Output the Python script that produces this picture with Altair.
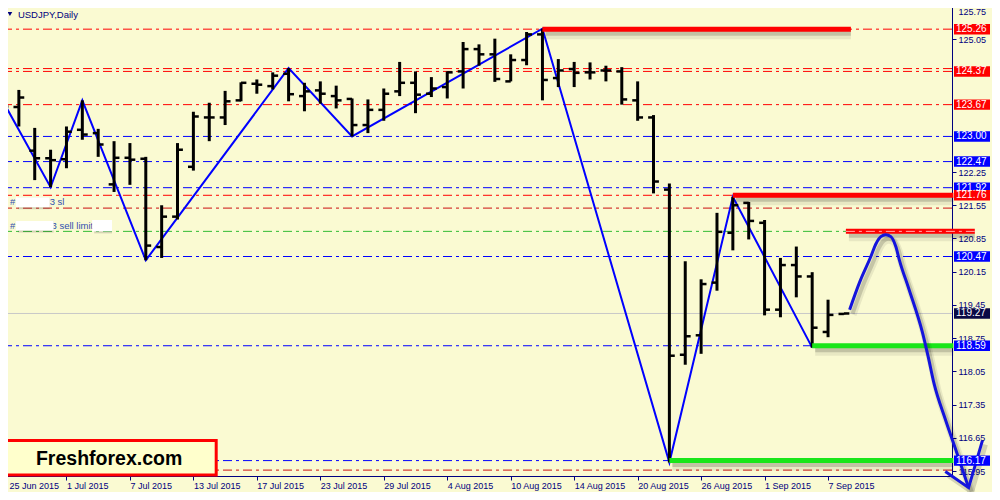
import altair as alt
import pandas as pd

# ---------------- data ----------------
dates = ["25 Jun 2015", "26 Jun 2015", "29 Jun 2015", "30 Jun 2015",
         "1 Jul 2015", "2 Jul 2015", "3 Jul 2015", "6 Jul 2015", "7 Jul 2015", "8 Jul 2015",
         "9 Jul 2015", "10 Jul 2015", "13 Jul 2015", "14 Jul 2015", "15 Jul 2015", "16 Jul 2015",
         "17 Jul 2015", "20 Jul 2015", "21 Jul 2015", "22 Jul 2015", "23 Jul 2015", "24 Jul 2015",
         "27 Jul 2015", "28 Jul 2015", "29 Jul 2015", "30 Jul 2015", "31 Jul 2015",
         "3 Aug 2015", "4 Aug 2015", "5 Aug 2015", "6 Aug 2015", "7 Aug 2015", "10 Aug 2015",
         "11 Aug 2015", "12 Aug 2015", "13 Aug 2015", "14 Aug 2015", "17 Aug 2015", "18 Aug 2015",
         "19 Aug 2015", "20 Aug 2015", "21 Aug 2015", "24 Aug 2015", "25 Aug 2015", "26 Aug 2015",
         "27 Aug 2015", "28 Aug 2015", "31 Aug 2015",
         "1 Sep 2015", "2 Sep 2015", "3 Sep 2015", "4 Sep 2015", "7 Sep 2015", "8 Sep 2015"]
tick_labels = dates[::4]

opens = [123.70, 123.62, 122.70, 122.54, 122.52, 123.14, 123.07, 121.99, 122.55, 122.53,
         120.67, 121.31, 122.36, 123.40, 123.40, 123.76, 124.11, 124.06, 124.32, 123.85,
         123.97, 123.85, 123.79, 123.24, 123.56, 123.95, 124.13, 123.90, 124.04, 124.37,
         124.84, 124.73, 124.16, 124.61, 125.15, 124.23, 124.42, 124.35, 124.39, 124.37,
         123.76, 123.40, 121.88, 118.40, 118.81, 119.92, 120.97, 121.60, 121.18, 119.35,
         120.29, 120.05, 118.88, 119.26]
highs = [123.94, 123.98, 123.18, 122.72, 123.21, 123.76, 123.16, 122.90, 122.86, 122.57,
         121.55, 122.86, 123.52, 123.71, 123.96, 124.14, 124.20, 124.35, 124.44, 124.13,
         124.16, 124.07, 123.80, 123.78, 124.01, 124.57, 124.37, 124.25, 124.37, 124.99,
         124.94, 125.06, 124.73, 125.20, 125.27, 124.63, 124.57, 124.56, 124.49, 124.46,
         124.16, 123.45, 122.01, 120.37, 119.99, 121.39, 121.73, 121.62, 121.24, 120.44,
         120.68, 120.14, 119.56, 119.28]
lows = [123.28, 123.21, 122.08, 121.93, 122.33, 122.93, 122.57, 121.83, 121.98, 120.39,
        120.44, 121.25, 122.28, 122.90, 123.24, 123.74, 123.90, 123.99, 123.74, 123.53,
        123.69, 123.59, 123.00, 123.07, 123.33, 123.85, 123.49, 123.83, 123.80, 124.01,
        124.49, 124.15, 124.16, 124.50, 123.76, 124.04, 124.04, 124.20, 124.16, 123.67,
        123.33, 121.80, 116.13, 118.19, 118.42, 119.75, 120.60, 120.83, 119.23, 119.19,
        119.61, 118.55, 118.77, 119.25]
closes = [123.63, 123.82, 122.54, 122.50, 123.10, 123.04, 122.83, 122.55, 122.51, 120.70,
          121.31, 122.72, 123.42, 123.40, 123.74, 124.13, 124.09, 124.28, 123.89, 123.95,
          123.90, 123.76, 123.24, 123.56, 123.90, 124.13, 123.88, 124.01, 124.35, 124.84,
          124.73, 124.21, 124.61, 125.15, 124.19, 124.39, 124.34, 124.35, 124.39, 123.78,
          123.40, 122.05, 118.38, 118.79, 119.89, 120.99, 121.55, 121.22, 119.35, 120.29,
          120.05, 118.97, 119.24, 119.27]

# ZigZag turning points (bar index, price)
zz_idx = [0, 3, 5, 9, 18, 22, 34, 42, 46, 51]
zz_px = [123.74, 121.93, 123.76, 120.39, 124.44, 123.00, 125.27, 116.13, 121.73, 118.55]

# hand-drawn forecast path (bar index, price)
fc_idx = [53.36, 53.98, 54.71, 55.02, 55.33, 55.64, 55.96, 56.27, 56.50, 57.10,
          57.94, 58.31, 58.69, 59.38, 60.13, 60.86]
fc_px = [119.35, 119.92, 120.48, 120.74, 120.89, 120.93, 120.89, 120.68, 120.39, 119.78,
         118.88, 118.36, 117.78, 117.05, 116.32, 115.60]
arrow_idx = [59.39, 60.86, 61.73]
arrow_px = [115.94, 115.60, 116.59]

# horizontal dash-dot levels
level_px = [125.26, 124.43, 124.37, 123.67, 123.00, 122.47, 121.92, 121.76, 121.49,
            121.00, 120.47, 118.59, 116.17, 115.97]
level_kind = ["red", "red", "red", "red", "blue", "blue", "blue", "red", "dred",
              "green", "blue", "blue", "blue", "dred"]

# thick support / resistance segments
thick_px = [125.26, 121.76, 121.00, 118.59, 116.17]
thick_from = [34, 46, 53.125, 51, 42]
thick_to = [53.44, 59.9, 61.25, 59.9, 59.9]
thick_kind = ["res", "res", "res", "sup", "sup"]

# price tags on the right axis
tag_px = [125.26, 124.37, 123.67, 123.00, 122.47, 121.92, 121.76, 120.47, 119.27, 118.59, 116.17]
tag_kind = ["red", "red", "red", "blue", "blue", "blue", "red", "blue", "bid", "blue", "blue"]

bid_price = [119.27]
ytick_vals = [125.75, 125.05, 122.25, 121.55, 120.85,
              120.15, 119.45, 118.75, 118.05, 117.35, 116.65, 115.95]

# order annotations (text, bar index, price) and masked boxes (i0, i1, p0, p1)
ann_text = ["#", "3 sl", "#", "3 sell limit"]
ann_i = [0.44, 2.94, 0.44, 3.06]
ann_p = [121.62, 121.62, 121.12, 121.12]
mask_i0 = [0.81, 0.81, 5.62]
mask_i1 = [2.94, 3.19, 6.87]
mask_p0 = [121.51, 121.02, 121.00]
mask_p1 = [121.72, 121.22, 121.24]

# ---------------- styles ----------------
BG = "#FAFAD2"
NAVY = "#000080"
FONT = "Liberation Sans"
COLORS = {"red": "#ff0000", "blue": "#0000ff", "dred": "#cc1010", "green": "#33bb33",
          "res": "#ff0000", "sup": "#19e619", "bid": "#0a0a46"}
DASH = [9, 4, 3, 4]
W, H = 950, 476
SX, SY = W / 958.0, H / 483.0   # reference-pixel to plot-pixel factors for decorations

bars = pd.DataFrame({"i": list(range(len(opens))), "O": opens, "H": highs, "L": lows, "C": closes})
bars["xl"] = bars["i"] - 0.34
bars["xr"] = bars["i"] + 0.34

zz = pd.DataFrame({"i": zz_idx, "p": zz_px})
fc = pd.DataFrame({"i": fc_idx, "p": fc_px})
arw = pd.DataFrame({"i": arrow_idx, "p": arrow_px})
lv = pd.DataFrame({"p": level_px, "c": [COLORS[k] for k in level_kind]})
th = pd.DataFrame({"p": thick_px, "a": thick_from, "b": thick_to,
                   "c": [COLORS[k] for k in thick_kind]})
tg = pd.DataFrame({"p": tag_px, "c": [COLORS[k] for k in tag_kind]})
tg["lo"] = tg["p"] - 0.11
tg["hi"] = tg["p"] + 0.11
bid = pd.DataFrame({"p": bid_price})
an = pd.DataFrame({"t": ann_text, "i": ann_i, "p": ann_p})
mk = pd.DataFrame({"a": mask_i0, "b": mask_i1, "lo": mask_p0, "hi": mask_p1})
one = pd.DataFrame({"a": [0]})

XS = alt.Scale(domain=[-0.0625, 59.8125], nice=False, zero=False)
YS = alt.Scale(domain=[115.8456, 125.8746], nice=False, zero=False)
label_expr = "[" + ",".join("'" + t + "'" for t in tick_labels) + "][round(datum.value/4)]"
XAX = alt.Axis(orient="bottom", values=list(range(0, 53, 4)), labelExpr=label_expr,
               labelAlign="left", labelBaseline="top", labelPadding=1, tickSize=4,
               tickColor=NAVY, domainColor=NAVY, labelColor=NAVY, labelFont=FONT,
               labelFontSize=9, grid=False, title=None, labelOverlap=False,
               labelFlush=False, labelBound=False,
               labelOffset={"condition": {"test": "datum.value < 1", "value": 6}, "value": 0})
YAX = alt.Axis(orient="right", values=ytick_vals, format=".2f", tickSize=4,
               tickColor=NAVY, domainColor=NAVY, labelColor=NAVY, labelFont=FONT,
               labelFontSize=9, labelPadding=2, grid=False, title=None,
               labelOverlap=False, labelFlush=False, labelBound=False,
               labelBaseline={"condition": {"test": "datum.value > 125.7", "value": "top"},
                              "value": "middle"},
               labelOffset={"condition": {"test": "datum.value > 125.7", "value": 2}, "value": 0})


def X(f):
    return alt.X(f + ":Q", scale=XS, axis=XAX)


def Y(f):
    return alt.Y(f + ":Q", scale=YS, axis=YAX)


def px(v):
    return alt.value(round(v * SX, 1))


def py(v):
    return alt.value(round(v * SY, 1))


levels = alt.Chart(lv).mark_rule(strokeWidth=1, strokeDash=DASH).encode(
    y=Y("p"), color=alt.Color("c:N", scale=None))
bidline = alt.Chart(bid).mark_rule(strokeWidth=1, color="#c8c8c8").encode(y=Y("p"))

zigzag = alt.Chart(zz).mark_line(color="#0000ff", strokeWidth=2).encode(x=X("i"), y=Y("p"))

hl = alt.Chart(bars).mark_rule(strokeWidth=3, color="black").encode(x=X("i"), y=Y("L"), y2="H")
op = alt.Chart(bars).mark_rule(strokeWidth=2.5, color="black").encode(x=X("xl"), x2="i", y=Y("O"))
cl = alt.Chart(bars).mark_rule(strokeWidth=2.5, color="black").encode(x=X("i"), x2="xr", y=Y("C"))

thick_sh1 = alt.Chart(th).mark_rule(strokeWidth=10, color="black", opacity=0.07,
                                    xOffset=3, yOffset=5).encode(x=X("a"), x2="b", y=Y("p"))
thick_sh2 = alt.Chart(th).mark_rule(strokeWidth=5, color="black", opacity=0.16,
                                    xOffset=3, yOffset=4).encode(x=X("a"), x2="b", y=Y("p"))
thick = alt.Chart(th).mark_rule(strokeWidth=5).encode(
    x=X("a"), x2="b", y=Y("p"), color=alt.Color("c:N", scale=None))
sell_dash = alt.Chart(th[th["p"] == 121.00]).mark_rule(
    strokeWidth=1, color="#ffb0b0", strokeDash=DASH).encode(x=X("a"), x2="b", y=Y("p"))

fc_sh1 = alt.Chart(fc).mark_line(interpolate="monotone", color="black", opacity=0.07,
                                 strokeWidth=8, xOffset=3, yOffset=5).encode(x=X("i"), y=Y("p"))
fc_sh2 = alt.Chart(fc).mark_line(interpolate="monotone", color="black", opacity=0.15,
                                 strokeWidth=4, xOffset=3, yOffset=4).encode(x=X("i"), y=Y("p"))
fc_line = alt.Chart(fc).mark_line(interpolate="monotone", color="#1414dc",
                                  strokeWidth=3).encode(x=X("i"), y=Y("p"))
arw_sh = alt.Chart(arw).mark_line(color="black", opacity=0.15, strokeWidth=5,
                                  xOffset=3, yOffset=4).encode(x=X("i"), y=Y("p"))
arw_line = alt.Chart(arw).mark_line(color="#1414dc", strokeWidth=3).encode(x=X("i"), y=Y("p"))

tag_box = alt.Chart(tg).mark_rect().encode(
    y=Y("lo"), y2="hi", x=alt.value(W + 2), x2=alt.value(W + 38),
    color=alt.Color("c:N", scale=None))
tag_txt = alt.Chart(tg).mark_text(align="left", baseline="middle", fontSize=10,
                                  color="white", font=FONT).encode(
    y=Y("p"), x=alt.value(W + 4), text=alt.Text("p:Q", format=".2f"))

left_border = alt.Chart(one).mark_rule(color=NAVY, strokeWidth=1).encode(
    x=alt.value(0.5), y=alt.value(0), y2=alt.value(H))

title_tri = alt.Chart(one).mark_point(shape="triangle-down", filled=True, color=NAVY,
                                      size=22, opacity=1).encode(x=px(8), y=alt.value(14))
title_txt = alt.Chart(one).mark_text(text="USDJPY,Daily", align="left", baseline="middle",
                                     fontSize=9.5, color=NAVY, font=FONT).encode(
    x=px(16), y=alt.value(14.5))

ann_txt = alt.Chart(an).mark_text(align="left", baseline="middle", fontSize=9.5,
                                  color="#2f4fb0", font=FONT).encode(
    x=X("i"), y=Y("p"), text="t:N")
mask_sh = alt.Chart(mk).mark_rect(color="black", opacity=0.15, xOffset=2, yOffset=2).encode(
    x=X("a"), x2="b", y=Y("lo"), y2="hi")
mask = alt.Chart(mk).mark_rect(color="white").encode(x=X("a"), x2="b", y=Y("lo"), y2="hi")

logo_box = alt.Chart(one).mark_rect(fill="#FFFFCC", stroke="#ff0000", strokeWidth=3).encode(
    x=px(4), x2=px(216), y=py(447), y2=py(482))
logo_txt = alt.Chart(one).mark_text(text="Freshforex.com", align="center", baseline="middle",
                                    fontSize=19.5, fontWeight="bold", color="black",
                                    font=FONT).encode(x=px(108), y=py(466))

chart = alt.layer(
    levels, bidline, zigzag, hl, op, cl, thick_sh1, thick_sh2, thick, sell_dash,
    fc_sh1, fc_sh2, arw_sh, fc_line, arw_line, tag_box, tag_txt, left_border,
    title_tri, title_txt, ann_txt, mask_sh, mask, logo_box, logo_txt
).properties(
    width=W, height=H,
    padding={"left": -6, "top": -8, "right": 40, "bottom": 16},
    autosize=alt.AutoSizeParams(type="none"),
    background=BG,
).configure_view(stroke=None, fill=BG).configure_text(font=FONT)

chart.save("out.html", embed_options={"renderer": "svg", "actions": False})
